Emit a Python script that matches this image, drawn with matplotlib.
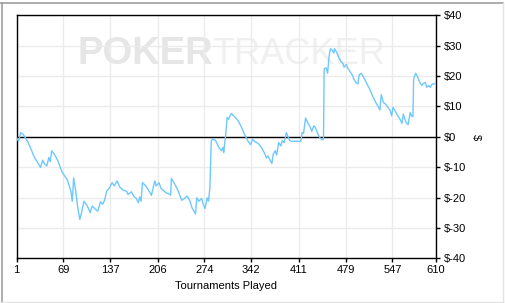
import numpy as np
import matplotlib.pyplot as plt
from matplotlib.lines import Line2D

# tournament number / cumulative winnings ($)
tournaments = [1, 4, 7, 11, 17, 22, 27, 31, 36, 39, 42, 45, 48, 50, 52, 56, 61, 67, 75, 80,
               82, 84, 87, 90, 93, 96, 99, 104, 108, 111, 116, 119, 123, 126, 129, 132, 136, 140, 143, 147,
               151, 156, 161, 163, 168, 171, 175, 178, 180, 182, 184, 189, 195, 197, 199, 202, 204, 208, 211, 214,
               218, 221, 225, 226, 231, 236, 241, 245, 249, 253, 256, 259, 261, 263, 266, 270, 272, 275, 278, 280,
               282, 284, 286, 290, 294, 295, 299, 301, 302, 305, 307, 309, 313, 318, 323, 328, 332, 337, 341, 344,
               347, 352, 357, 362, 364, 366, 370, 372, 374, 377, 379, 382, 385, 387, 390, 393, 395, 398, 402, 414,
               416, 418, 421, 424, 428, 430, 433, 435, 439, 442, 445, 447, 448, 451, 453, 455, 457, 460, 462, 463,
               466, 469, 472, 475, 477, 480, 483, 486, 488, 491, 494, 497, 499, 502, 505, 509, 514, 518, 523, 527,
               529, 531, 534, 537, 540, 544, 546, 548, 551, 555, 558, 561, 563, 566, 568, 570, 573, 575, 577, 578,
               581, 584, 587, 590, 592, 595, 597, 600, 602, 605, 608, 610]
winnings = [-0.2, -1.5, 1.4, 0.7, -1.5, -4.0, -6.8, -8.2, -10.1, -7.7, -9.0, -9.6, -6.8, -8.2, -4.6, -5.7, -7.9, -11.5, -14.3, -17.9,
            -21.2, -13.5, -17.9, -23.4, -27.2, -24.5, -21.2, -22.8, -25.0, -22.8, -23.9, -24.5, -21.4, -22.2, -20.9, -17.9, -16.8, -15.1, -16.2, -14.5,
            -16.5, -17.6, -17.9, -19.0, -18.1, -19.5, -20.3, -21.7, -19.8, -21.2, -15.1, -16.2, -18.4, -19.3, -17.3, -14.5, -16.2, -15.1, -17.0, -17.6,
            -18.4, -18.7, -19.2, -13.7, -15.6, -17.9, -20.9, -20.3, -19.5, -21.2, -23.4, -24.5, -25.4, -20.1, -21.2, -20.3, -22.0, -23.6, -20.1, -21.2,
            -16.5, -1.3, -0.8, -1.1, -3.0, -3.5, -4.6, -3.5, -5.2, 0.9, 6.4, 5.8, 7.7, 6.6, 5.3, 3.1, 0.9, -1.3, -2.6, -0.8,
            -1.5, -2.2, -3.5, -5.7, -7.0, -6.3, -7.9, -8.8, -5.7, -4.6, -6.0, -1.9, -3.0, -1.3, -1.9, 1.4, 0.3, -1.3, -1.5, -1.5,
            1.4, 1.1, 6.2, 4.7, 3.1, 1.8, 3.6, 3.1, 0.9, -0.4, -1.0, -0.8, 22.4, 22.7, 20.9, 26.2, 29.0, 28.4, 27.5, 29.0,
            27.9, 26.2, 24.9, 24.2, 22.9, 23.8, 22.4, 21.3, 20.7, 19.1, 17.9, 17.4, 20.5, 20.9, 19.8, 17.9, 15.8, 13.6, 11.3, 9.7,
            8.8, 13.9, 11.3, 10.8, 9.9, 8.6, 6.9, 9.7, 8.6, 6.9, 5.9, 4.4, 7.5, 5.3, 4.4, 4.0, 8.0, 6.9, 6.6, 19.1,
            20.9, 19.6, 17.9, 16.9, 17.6, 17.9, 16.3, 16.9, 16.3, 17.4, 17.4, 17.6]

x_ticks = [1, 69, 137, 206, 274, 342, 411, 479, 547, 610]
y_ticks = [-40, -30, -20, -10, 0, 10, 20, 30, 40]

plt.rcParams['font.family'] = ['Liberation Sans', 'DejaVu Sans']

fig = plt.figure(figsize=(5.05, 3.03), dpi=100)
ax = fig.add_axes([0.0327, 0.1475, 0.830, 0.802])

# watermark
ax.text(0.145, 0.84, 'POKER', transform=ax.transAxes, fontsize=27.5, fontweight='bold',
        color='#e6e6e6', ha='left', va='center', zorder=0)
ax.text(0.468, 0.84, 'TRACKER', transform=ax.transAxes, fontsize=26,
        color='#f0f0f0', ha='left', va='center', zorder=0)

ax.plot(tournaments, winnings, color='#6ec8ff', lw=1.0, zorder=3)
ax.axhline(0, color='black', lw=1.0, zorder=2)

ax.set_xlim(1, 610)
ax.set_ylim(-40, 40)
ax.set_xticks(x_ticks)
ax.set_yticks(y_ticks)
ax.set_yticklabels(['$%d' % v for v in y_ticks])
ax.grid(True, color='#ebebeb', lw=1.0, zorder=0)
ax.set_axisbelow(True)

ax.yaxis.tick_right()
ax.yaxis.set_label_position('right')
ax.tick_params(axis='both', direction='out', length=3, width=1, labelsize=8, color='black')
ax.tick_params(axis='y', pad=3)
ax.tick_params(axis='x', pad=2)
for s in ax.spines.values():
    s.set_linewidth(1.0)
    s.set_color('black')

ax.set_xlabel('Tournaments Played', fontsize=8, labelpad=4)
ax.set_ylabel('$', fontsize=8, rotation=270, labelpad=7, va='center')

# outer frame
W, H = 505.0, 303.0
fig.add_artist(Line2D([0, 503 / W], [1 - 3 / H, 1 - 3 / H], color='#a0a0a0', lw=1.2, transform=fig.transFigure))
fig.add_artist(Line2D([1.5 / W, 1.5 / W], [0, 1 - 3 / H], color='#a0a0a0', lw=1.2, transform=fig.transFigure))
fig.add_artist(Line2D([0, 503 / W], [1.5 / H, 1.5 / H], color='#e3e3e3', lw=1.0, transform=fig.transFigure))
fig.add_artist(Line2D([503 / W, 503 / W], [1.5 / H, 1 - 3 / H], color='#e3e3e3', lw=1.0, transform=fig.transFigure))

fig.savefig('out.png', dpi=100)
